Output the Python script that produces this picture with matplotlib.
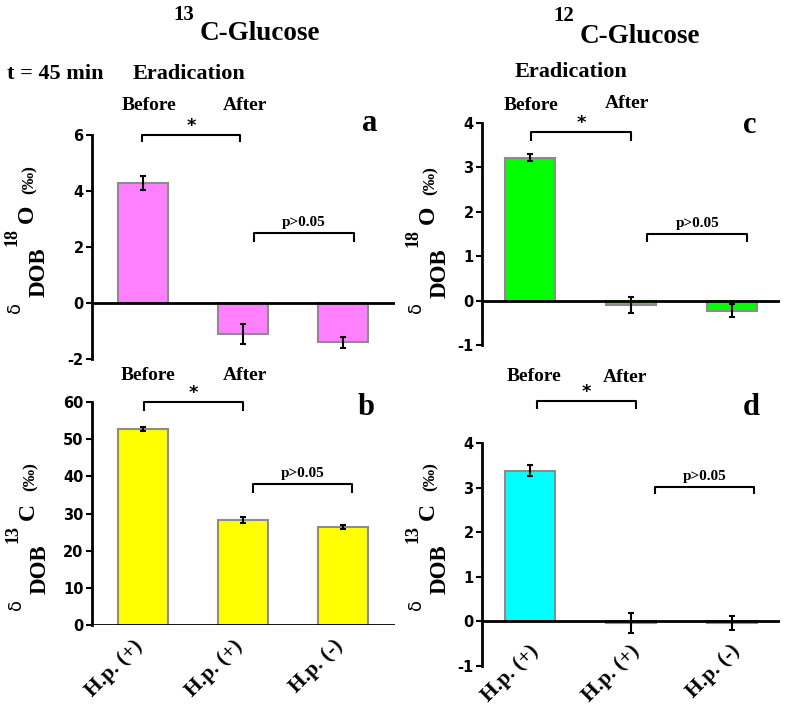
import matplotlib.pyplot as plt

groups = ['H.p. (+)', 'H.p. (+)', 'H.p. (-)']

# 13C-glucose
o18_13c = [4.3, -1.1, -1.4]
o18_13c_err = [0.25, 0.35, 0.2]
c13_13c = [52.7, 28.2, 26.3]
c13_13c_err = [0.5, 0.8, 0.5]

# 12C-glucose
o18_12c = [3.22, -0.1, -0.23]
o18_12c_err = [0.08, 0.18, 0.15]
c13_12c = [3.38, -0.03, -0.03]
c13_12c_err = [0.12, 0.22, 0.16]

W, H = 787, 706
SERIF = 'Liberation Serif'
SANS = 'DejaVu Sans'

plt.rcParams['font.family'] = [SANS]
plt.rcParams['font.weight'] = 'bold'
plt.rcParams['axes.unicode_minus'] = False

fig = plt.figure(figsize=(W / 100, H / 100), dpi=100)


def fx(px):
    return px / W


def fy(py):
    return 1 - py / H


def add_ax(left, right, top, bottom):
    return fig.add_axes([fx(left), fy(bottom), (right - left) / W, (bottom - top) / H])


def bars(ax, vals, errs, color, ylim, yticks, xlim):
    x = range(len(vals))
    ax.bar(x, vals, width=0.5, color=color, edgecolor='#8c8c8c', linewidth=1.5, zorder=2)
    ax.errorbar(x, vals, yerr=errs, fmt='none', ecolor='black', elinewidth=1.5,
                capsize=2.5, capthick=1.5, zorder=3)
    ax.axhline(0, color='black', lw=2, zorder=4)
    ax.set_xlim(xlim)
    ax.set_ylim(ylim)
    ax.set_yticks(yticks)
    ax.set_yticklabels([str(t) for t in yticks], fontfamily=SANS, fontweight='bold',
                       fontsize=10.5)
    ax.set_xticks([])
    for s in ['top', 'right', 'bottom']:
        ax.spines[s].set_visible(False)
    ax.spines['left'].set_linewidth(2)
    ax.tick_params(axis='y', width=1.5, length=4, direction='out', pad=2)


def bracket(ax, x0, x1, y, drop, label, small):
    ax.plot([x0, x0, x1, x1], [y - drop, y, y, y - drop], color='black', lw=1.5,
            clip_on=False, solid_capstyle='butt')
    xm = (x0 + x1) / 2
    if small:
        ax.annotate(label, (xm, y), xytext=(0, 5), textcoords='offset points',
                    ha='center', va='baseline', fontfamily=SERIF, fontweight='bold',
                    fontsize=11, annotation_clip=False)
    else:
        ax.annotate(label, (xm, y), xytext=(0, 6.5), textcoords='offset points',
                    ha='center', va='center', fontfamily=SANS, fontweight='bold',
                    fontsize=13, annotation_clip=False)


def xlabels(ax, dx, dy):
    for i, g in enumerate(groups):
        ax.annotate(g, (i, 0), xytext=(dx, dy), textcoords='offset points',
                    rotation=45, ha='right', va='top', fontfamily=SERIF,
                    fontweight='bold', fontsize=15.5, annotation_clip=False)


def text(px, py, s, size, ha='left', va='baseline', **kw):
    kw.setdefault('fontfamily', SERIF)
    kw.setdefault('fontweight', 'bold')
    fig.text(fx(px), fy(py), s, fontsize=size, ha=ha, va=va, **kw)


def ylabel(cx, cy, iso, elem):
    # δ_DOB ^iso elem (‰), drawn piece by piece, rotated
    text(cx - 24, cy + 35, 'δ', 13, ha='center', va='center', rotation=90,
         fontfamily='DejaVu Sans', fontweight='normal')
    text(cx, cy, 'DOB', 16.5, ha='center', va='center', rotation=90)
    text(cx - 27, cy - 35, iso, 13, ha='center', va='center', rotation=90)
    text(cx - 12, cy - 58, elem, 17, ha='center', va='center', rotation=90)
    text(cx - 9, cy - 92, '(‰)', 12.5, ha='center', va='center', rotation=90)


# panel a
ax_a = add_ax(92, 395, 135, 359)
bars(ax_a, o18_13c, o18_13c_err, '#ff80ff', (-2, 6), [-2, 0, 2, 4, 6], (-0.51, 2.52))
bracket(ax_a, -0.01, 0.97, 6.0, 0.25, '*', False)
bracket(ax_a, 1.11, 2.11, 2.5, 0.32, 'p>0.05', True)

# panel b
ax_b = add_ax(92, 395, 402, 625)
bars(ax_b, c13_13c, c13_13c_err, '#ffff00', (0, 60), [0, 10, 20, 30, 40, 50, 60], (-0.51, 2.52))
bracket(ax_b, 0.01, 1.0, 60, 2.4, '*', False)
bracket(ax_b, 1.1, 2.09, 37.9, 2.4, 'p>0.05', True)
xlabels(ax_b, 3, -8)

# panel c
ax_c = add_ax(482, 780, 123, 345)
bars(ax_c, o18_12c, o18_12c_err, '#00ff00', (-1, 4), [-1, 0, 1, 2, 3, 4], (-0.475, 2.475))
bracket(ax_c, 0.01, 1.0, 3.8, 0.2, '*', False)
bracket(ax_c, 1.16, 2.15, 1.5, 0.18, 'p>0.05', True)

# panel d
ax_d = add_ax(482, 780, 443, 666)
bars(ax_d, c13_12c, c13_12c_err, '#00ffff', (-1, 4), [-1, 0, 1, 2, 3, 4], (-0.475, 2.475))
bracket(ax_d, 0.07, 1.05, 4.94, 0.17, '*', False)
bracket(ax_d, 1.24, 2.22, 3.02, 0.16, 'p>0.05', True)
xlabels(ax_d, 9, -14)

# y labels
ylabel(39, 272, '18', 'O')
ylabel(40, 569, '13', 'C')
ylabel(440, 273, '18', 'O')
ylabel(440, 569, '13', 'C')

# titles and annotations
text(173, 20, '13', 15)
text(200, 40, 'C-Glucose', 19.5)
text(553, 21, '12', 15)
text(580, 43, 'C-Glucose', 19.5)

text(7, 79, 't = 45 min', 16)
text(133, 79, 'Eradication', 16)
text(515, 77, 'Eradication', 16)

text(122, 110, 'Before', 14)
text(223, 110, 'After', 14)
text(121, 380, 'Before', 14)
text(223, 380, 'After', 14)
text(504, 110, 'Before', 14)
text(605, 108, 'After', 14)
text(507, 381, 'Before', 14)
text(603, 382, 'After', 14)

text(362, 131, 'a', 22)
text(358, 415, 'b', 22)
text(743, 133, 'c', 22)
text(743, 415, 'd', 22)

fig.savefig('out.png', dpi=100)
